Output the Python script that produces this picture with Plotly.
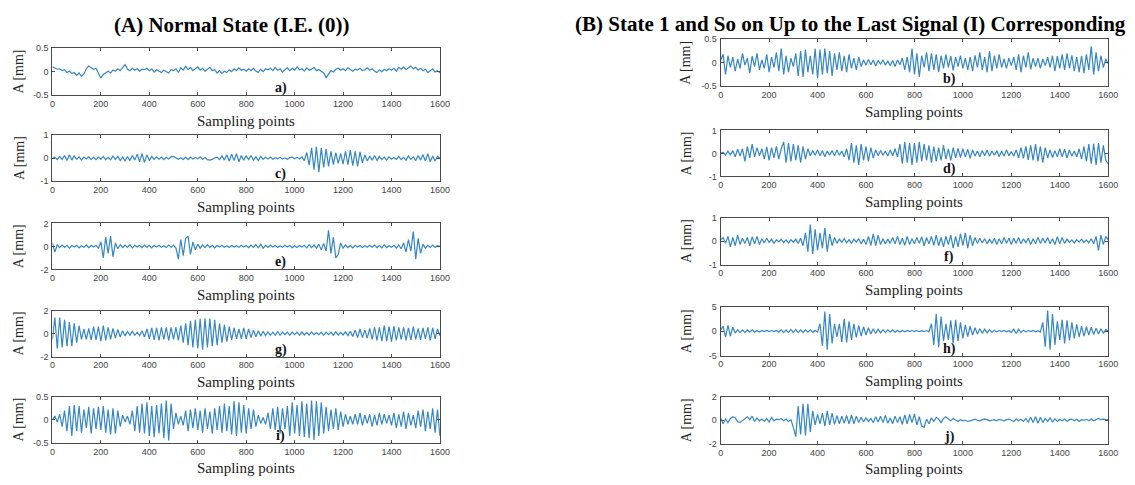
import plotly.graph_objects as go

W, H = 1135, 485

# ---------------- data (estimated, one value every 10 sampling points) ----------------
sig_a = [0.10, 0.08, 0.05, 0.06, 0.02, 0.04, -0.02, 0.01, -0.04, -0.02,
         -0.08, -0.03, -0.10, -0.05, 0.06, 0.12, 0.08, 0.05, 0.07, -0.02,
         -0.14, -0.06, -0.02, 0.01, -0.03, 0.03, 0.01, 0.06, 0.02, 0.08,
         0.15, 0.05, 0.02, 0.07, 0.03, 0.06, 0.01, 0.05, 0.04, 0.07,
         0.02, 0.06, -0.01, 0.04, 0.01, -0.02, 0.03, 0.00, -0.03, 0.04,
         0.02, 0.06, -0.02, 0.08, 0.03, 0.11, 0.04, 0.09, 0.02, 0.06,
         0.10, 0.03, 0.07, 0.01, 0.05, 0.09, 0.02, 0.04, -0.03, 0.02,
         -0.04, 0.01, -0.02, 0.04, 0.00, 0.06, 0.02, 0.08, 0.03, 0.05,
         0.01, 0.06, 0.02, 0.07, 0.01, -0.02, 0.05, 0.00, 0.06, 0.04,
         0.07, 0.02, 0.09, 0.03, 0.06, -0.01, 0.04, 0.08, 0.02, 0.07,
         0.03, 0.10, 0.04, 0.06, 0.01, 0.08, 0.03, 0.05, 0.09, 0.02,
         0.04, 0.00, -0.03, -0.13, -0.05, 0.02, -0.01, 0.05, 0.07, 0.03,
         0.06, 0.02, 0.08, 0.04, 0.01, 0.05, 0.03, 0.07, 0.02, 0.04,
         0.08, 0.03, 0.06, 0.01, -0.02, 0.04, 0.00, 0.05, 0.02, 0.06,
         0.03, 0.07, 0.01, 0.09, 0.05, 0.10, 0.04, 0.08, 0.12, 0.06,
         0.09, 0.03, 0.07, 0.02, 0.05, -0.02, 0.03, 0.06, -0.01, 0.02,
         -0.03]

sig_b = [0.05, 0.18, -0.25, 0.15, -0.10, 0.12, -0.18, 0.08, -0.12, 0.20,
         -0.05, 0.10, -0.22, 0.14, -0.08, 0.20, -0.15, 0.06, -0.12, 0.18,
         -0.20, 0.12, -0.10, 0.22, -0.18, 0.30, -0.25, 0.15, -0.20, 0.10,
         -0.08, 0.20, -0.28, 0.25, -0.30, 0.28, -0.20, 0.15, -0.25, 0.30,
         -0.33, 0.28, -0.25, 0.30, -0.22, 0.25, -0.28, 0.20, -0.15, 0.22,
         -0.18, 0.15, -0.20, 0.18, -0.12, 0.10, -0.15, 0.12, -0.08, 0.06,
         -0.05, 0.07, -0.04, 0.06, -0.07, 0.05, -0.03, 0.06, -0.05, 0.04,
         -0.06, 0.05, -0.08, 0.06, -0.04, 0.10, -0.15, 0.12, -0.20, 0.30,
         -0.25, 0.20, -0.30, 0.15, -0.10, 0.22, -0.18, 0.20, -0.15, 0.18,
         -0.20, 0.15, -0.12, 0.18, -0.10, 0.14, -0.16, 0.12, -0.08, 0.15,
         -0.12, 0.10, -0.15, 0.12, -0.18, 0.16, -0.10, 0.22, -0.15, 0.12,
         -0.20, 0.25, -0.18, 0.15, -0.12, 0.18, -0.10, 0.08, -0.12, 0.10,
         -0.06, 0.12, -0.15, 0.18, -0.20, 0.15, -0.10, 0.22, -0.14, 0.10,
         -0.08, 0.10, -0.12, 0.08, -0.06, 0.12, -0.10, 0.15, -0.18, 0.14,
         -0.12, 0.18, -0.15, 0.20, -0.12, 0.16, -0.18, 0.12, -0.20, 0.15,
         -0.22, 0.18, -0.15, 0.35, -0.25, 0.22, -0.18, 0.15, -0.10, 0.08,
         -0.02]

sig_c = [0.00, 0.05, -0.06, 0.08, -0.05, 0.12, -0.10, 0.15, -0.08, 0.10,
         -0.05, 0.06, -0.08, 0.05, -0.03, 0.06, -0.05, 0.04, -0.06, 0.05,
         -0.04, 0.08, -0.06, 0.04, -0.07, 0.10, -0.05, 0.08, -0.10, 0.06,
         -0.12, 0.08, -0.10, 0.12, -0.08, 0.18, -0.15, 0.20, -0.18, 0.15,
         -0.10, 0.08, -0.05, 0.06, -0.04, 0.05, -0.06, 0.04, -0.03, 0.06,
         0.08, 0.03, -0.04, 0.02, -0.05, 0.04, -0.06, 0.05, -0.03, 0.04,
         -0.02, 0.05, -0.04, 0.03, -0.06, -0.08, -0.05, 0.02, 0.05, -0.06,
         0.10, -0.08, 0.15, -0.12, 0.18, -0.10, 0.20, -0.15, 0.12, -0.08,
         0.10, -0.06, 0.12, -0.08, 0.06, -0.10, 0.08, -0.05, 0.04, -0.03,
         0.05, -0.04, 0.03, -0.02, 0.04, -0.03, 0.02, -0.04, 0.03, 0.05,
         -0.02, 0.04, -0.03, 0.06, -0.10, 0.25, -0.30, 0.45, -0.50, 0.50,
         -0.60, 0.45, -0.40, 0.40, -0.35, 0.30, -0.28, 0.25, -0.22, 0.20,
         -0.25, 0.30, -0.28, 0.35, -0.32, 0.30, -0.35, 0.28, -0.20, 0.15,
         -0.12, 0.10, -0.08, 0.12, -0.10, 0.08, -0.06, 0.05, -0.08, 0.06,
         -0.04, 0.03, -0.05, 0.08, -0.06, 0.04, -0.08, 0.10, -0.05, 0.06,
         -0.10, 0.12, -0.08, 0.15, -0.12, 0.20, -0.15, 0.10, -0.12, 0.08,
         0.00]

sig_d = [0.00, 0.05, -0.08, 0.10, -0.06, 0.12, -0.15, 0.18, -0.12, 0.20,
         -0.35, 0.30, -0.20, 0.40, -0.15, 0.25, -0.10, 0.20, -0.25, 0.28,
         -0.30, 0.25, -0.20, 0.30, -0.25, 0.20, 0.50, -0.40, 0.45, -0.35,
         0.40, -0.30, 0.35, -0.40, 0.30, -0.25, 0.20, -0.10, 0.12, -0.08,
         0.15, -0.10, 0.12, -0.15, 0.10, -0.08, 0.12, -0.10, 0.15, -0.08,
         0.10, -0.15, 0.20, -0.30, 0.45, -0.40, 0.35, -0.50, 0.40, -0.30,
         0.30, -0.35, 0.25, -0.20, 0.15, -0.10, 0.12, -0.08, 0.10, -0.12,
         0.15, -0.10, 0.20, -0.15, 0.40, -0.45, 0.50, -0.40, 0.45, -0.50,
         0.45, -0.40, 0.50, -0.35, 0.40, -0.30, 0.35, -0.40, 0.30, -0.35,
         0.25, -0.30, 0.35, -0.25, 0.20, -0.30, 0.25, -0.20, 0.22, -0.18,
         0.20, -0.15, 0.18, -0.22, 0.15, -0.12, 0.10, -0.15, 0.12, -0.10,
         0.15, -0.12, 0.10, -0.08, 0.12, -0.15, 0.10, -0.12, 0.15, -0.10,
         0.08, -0.12, 0.15, -0.20, 0.25, -0.22, 0.30, -0.28, 0.35, -0.30,
         0.40, -0.35, 0.30, -0.40, 0.25, -0.20, 0.15, -0.18, 0.12, -0.15,
         0.20, -0.15, 0.18, -0.20, 0.15, -0.12, 0.10, -0.15, 0.20, -0.25,
         0.30, -0.35, 0.40, -0.45, 0.42, -0.50, 0.45, -0.40, 0.35, -0.30,
         -0.45]

sig_e = [0.30, -0.50, 0.15, -0.10, 0.12, -0.08, 0.10, -0.15, 0.08, -0.05,
         0.10, -0.12, 0.06, -0.08, 0.12, -0.10, 0.08, -0.06, 0.10, -0.15,
         0.40, -1.00, 0.80, -0.60, 0.90, -0.90, 0.30, -0.20, 0.15, -0.10,
         0.12, -0.08, 0.15, -0.12, 0.10, -0.06, 0.08, -0.10, 0.12, -0.08,
         0.10, -0.12, 0.08, -0.06, 0.10, -0.08, 0.06, -0.10, 0.12, -0.06,
         0.10, -0.15, -1.10, 0.60, -0.80, 0.70, 0.90, -0.70, 0.40, -0.30,
         0.20, -0.15, 0.12, -0.10, 0.15, -0.08, 0.10, -0.12, 0.08, -0.06,
         0.10, -0.08, 0.06, -0.10, 0.08, -0.05, 0.06, -0.08, 0.10, -0.06,
         0.08, -0.10, 0.12, -0.08, 0.15, -0.12, 0.20, -0.15, 0.10, -0.08,
         0.12, -0.06, 0.08, -0.10, 0.06, -0.08, 0.10, -0.05, 0.08, -0.12,
         0.06, -0.10, 0.08, -0.06, 0.10, -0.12, 0.15, -0.10, 0.12, -0.15,
         0.20, -0.30, 0.25, -0.40, 1.40, -0.60, 0.80, -1.00, -0.70, 0.30,
         -0.15, 0.12, -0.10, 0.08, -0.12, 0.10, -0.06, 0.08, -0.10, 0.06,
         -0.08, 0.10, -0.06, 0.12, -0.10, 0.08, -0.12, 0.15, -0.10, 0.06,
         -0.08, 0.10, -0.15, 0.12, -0.20, 0.30, -0.50, 0.60, -0.40, 1.30,
         -1.10, 0.70, -0.60, 0.20, -0.15, 0.10, -0.08, 0.12, -0.10, 0.06,
         0.00]

sig_f = [0.05, 0.15, -0.10, 0.20, -0.25, 0.15, -0.20, 0.25, -0.15, 0.12,
         -0.10, 0.15, -0.20, 0.18, -0.12, 0.20, -0.15, 0.10, -0.08, 0.12,
         -0.06, 0.08, -0.10, 0.06, -0.04, 0.08, -0.06, 0.05, -0.08, 0.06,
         -0.05, 0.08, -0.10, 0.12, -0.20, 0.35, -0.45, 0.70, -0.55, 0.50,
         -0.40, 0.35, -0.30, 0.55, -0.45, 0.30, -0.20, 0.15, -0.10, 0.08,
         -0.06, 0.10, -0.08, 0.06, -0.10, 0.08, -0.05, 0.10, -0.12, 0.08,
         -0.15, 0.20, -0.18, 0.30, -0.20, 0.25, -0.15, 0.10, -0.12, 0.08,
         -0.10, 0.15, -0.12, 0.20, -0.15, 0.12, -0.18, 0.20, -0.15, 0.10,
         -0.12, 0.15, -0.10, 0.18, -0.20, 0.15, -0.12, 0.20, -0.18, 0.25,
         -0.20, 0.15, -0.25, 0.20, -0.15, 0.25, -0.30, 0.20, -0.25, 0.30,
         -0.20, 0.35, -0.30, 0.25, -0.20, 0.15, -0.10, 0.12, -0.08, 0.10,
         -0.12, 0.08, -0.10, 0.12, -0.15, 0.10, -0.12, 0.15, -0.10, 0.12,
         -0.15, 0.12, -0.10, 0.15, -0.12, 0.10, -0.08, 0.12, -0.15, 0.10,
         -0.12, 0.15, -0.10, 0.12, -0.08, 0.15, -0.12, 0.10, -0.15, 0.18,
         -0.12, 0.15, -0.10, 0.08, -0.06, 0.05, -0.08, 0.06, -0.05, 0.08,
         -0.06, 0.05, -0.08, 0.10, -0.12, 0.20, -0.40, 0.25, -0.15, 0.20,
         0.05]

sig_g = [-0.50, 1.40, -1.30, 1.40, -1.20, 1.20, -1.10, 1.00, -1.10, 0.90,
         -0.80, 0.70, -0.50, 0.40, -0.50, 0.45, -0.55, 0.60, -0.55, 0.60,
         -0.65, 0.70, -0.60, 0.55, -0.50, 0.45, -0.40, 0.35, -0.30, 0.25,
         -0.20, 0.18, -0.15, 0.20, -0.15, 0.12, -0.18, 0.25, -0.30, 0.40,
         -0.45, 0.50, -0.55, 0.50, -0.60, 0.55, -0.50, 0.55, -0.60, 0.55,
         -0.50, 0.55, -0.60, 0.70, -0.80, 0.90, -1.00, 1.10, -1.20, 1.20,
         -1.30, 1.30, -1.40, 1.30, -1.20, 1.30, -1.10, 1.20, -1.00, 0.90,
         -0.80, 0.75, -0.70, 0.60, -0.55, 0.50, -0.45, 0.40, -0.45, 0.50,
         -0.45, 0.40, -0.35, 0.30, -0.28, 0.25, -0.22, 0.20, -0.18, 0.15,
         -0.15, 0.12, -0.15, 0.18, -0.15, 0.12, -0.10, 0.12, -0.15, 0.12,
         -0.10, 0.12, -0.14, 0.15, -0.12, 0.10, -0.12, 0.14, -0.10, 0.08,
         -0.10, 0.12, -0.15, 0.12, -0.10, 0.12, -0.14, 0.15, -0.12, 0.10,
         -0.12, 0.15, -0.18, 0.20, -0.25, 0.30, -0.35, 0.40, -0.35, 0.30,
         -0.40, 0.45, -0.50, 0.55, -0.60, 0.55, -0.65, 0.70, -0.65, 0.60,
         -0.70, 0.65, -0.60, 0.55, -0.50, 0.55, -0.60, 0.50, -0.55, 0.60,
         -0.50, 0.45, -0.55, 0.50, -0.45, 0.55, -0.60, 0.50, -0.45, 0.40,
         -0.20]

sig_h = [0.20, 1.00, -1.20, 1.20, -1.00, 0.80, -0.40, 0.30, -0.30, 0.25,
         -0.30, 0.25, -0.20, 0.25, -0.20, 0.15, -0.20, 0.15, -0.10, 0.15,
         -0.10, 0.12, -0.10, 0.15, -0.20, 0.25, -0.30, 0.25, -0.30, 0.35,
         -0.30, 0.35, -0.30, 0.25, -0.30, 0.25, -0.20, 0.25, -0.20, 0.15,
         -0.20, 1.50, -3.00, 4.00, -3.80, 3.50, -2.50, 1.50, -1.20, 1.50,
         -2.20, 2.50, -2.30, 2.00, -1.80, 1.50, -1.30, 1.20, -1.00, 0.90,
         -0.80, 0.70, -0.60, 0.50, -0.50, 0.40, -0.35, 0.30, -0.30, 0.25,
         -0.20, 0.25, -0.20, 0.15, -0.20, 0.15, -0.12, 0.15, -0.10, 0.12,
         -0.10, 0.12, -0.10, 0.08, -0.10, 0.12, -0.15, 1.50, -2.80, 3.50,
         -3.30, 3.00, -2.00, 1.50, -1.80, 2.20, -2.50, 2.30, -2.00, 1.80,
         -1.50, 1.30, -1.10, 1.00, -0.80, 0.70, -0.60, 0.50, -0.45, 0.40,
         -0.35, 0.30, -0.25, 0.20, -0.15, 0.12, -0.10, 0.15, -0.12, 0.10,
         -0.25, 0.40, -0.50, 0.40, -0.30, 0.20, -0.15, 0.12, -0.10, 0.15,
         -0.12, 0.10, -0.20, 1.80, -3.20, 4.20, -3.80, 3.50, -2.80, 2.00,
         -1.80, 2.30, -2.50, 2.20, -1.90, 1.80, -1.50, 1.40, -1.20, 1.00,
         -1.00, 0.90, -0.80, 0.80, -0.70, 0.60, -0.60, 0.50, -0.40, 0.30,
         0.00]

sig_i = [0.00, 0.08, -0.05, 0.12, -0.15, 0.20, -0.25, 0.30, -0.35, 0.32,
         -0.25, 0.30, -0.28, 0.22, -0.18, 0.28, -0.30, 0.25, -0.20, 0.28,
         -0.22, 0.30, -0.28, 0.22, -0.32, 0.25, -0.30, 0.20, -0.15, 0.10,
         -0.05, 0.08, -0.10, 0.20, -0.25, 0.30, -0.28, 0.35, -0.30, 0.38,
         -0.35, 0.30, -0.38, 0.32, -0.30, 0.35, -0.40, 0.42, -0.45, 0.35,
         -0.20, 0.15, -0.10, 0.08, -0.12, 0.20, -0.25, 0.22, -0.18, 0.25,
         -0.22, 0.20, -0.28, 0.25, -0.20, 0.18, -0.30, 0.25, -0.22, 0.30,
         -0.28, 0.35, -0.25, 0.30, -0.32, 0.40, -0.35, 0.38, -0.28, 0.32,
         -0.30, 0.25, -0.20, 0.22, -0.15, 0.10, -0.08, 0.05, -0.10, 0.15,
         -0.20, 0.25, -0.22, 0.28, -0.30, 0.25, -0.20, 0.30, -0.35, 0.38,
         -0.30, 0.32, -0.35, 0.40, -0.38, 0.35, -0.40, 0.42, -0.44, 0.40,
         -0.35, 0.38, -0.30, 0.28, -0.25, 0.22, -0.20, 0.25, -0.22, 0.18,
         -0.15, 0.12, -0.10, 0.08, -0.10, 0.12, -0.10, 0.15, -0.12, 0.10,
         -0.08, 0.12, -0.15, 0.10, -0.12, 0.15, -0.10, 0.12, -0.08, 0.10,
         -0.12, 0.15, -0.18, 0.12, -0.15, 0.18, -0.20, 0.15, -0.12, 0.10,
         -0.18, 0.20, -0.15, 0.22, -0.25, 0.18, -0.20, 0.25, -0.28, 0.22,
         -0.35]

sig_j = [0.20, -0.30, 0.10, -0.20, 0.15, 0.30, 0.20, -0.10, -0.20, -0.05,
         0.10, 0.30, 0.05, 0.35, -0.10, 0.20, -0.05, 0.10, -0.10, 0.15,
         -0.15, 0.25, -0.05, 0.10, 0.05, 0.15, -0.05, 0.10, -0.10, 0.05,
         -0.60, -1.40, 1.20, -1.20, 1.40, -1.30, 1.40, -1.00, 0.80, -0.40,
         0.50, -0.30, 0.60, -0.50, 0.80, -0.40, 0.60, -0.35, 0.40, -0.30,
         0.35, -0.25, 0.40, -0.30, 0.45, -0.30, 0.35, -0.20, 0.25, -0.15,
         0.20, -0.10, 0.15, -0.20, 0.30, -0.15, 0.35, -0.20, 0.40, -0.25,
         0.20, -0.30, 0.35, -0.20, 0.30, -0.35, 0.45, -0.30, 0.50, -0.20,
         0.55, -0.40, 0.30, -0.50, -0.60, 0.10, -0.30, 0.20, -0.10, 0.25,
         0.10, -0.20, 0.15, 0.30, 0.10, -0.05, 0.15, 0.05, -0.10, 0.05,
         -0.05, 0.00, -0.10, -0.05, 0.05, 0.10, 0.00, -0.05, 0.05, 0.10,
         0.05, -0.05, 0.00, 0.05, -0.05, 0.08, 0.02, -0.05, 0.05, 0.10,
         0.00, -0.10, 0.10, -0.05, 0.08, -0.10, 0.15, -0.15, 0.25, -0.20,
         0.30, -0.25, 0.25, -0.20, 0.15, -0.10, 0.20, -0.15, 0.12, -0.10,
         0.08, -0.05, 0.10, -0.08, 0.05, 0.10, -0.05, 0.08, -0.10, 0.05,
         0.00, 0.08, -0.05, 0.10, -0.05, 0.08, 0.15, 0.05, 0.10, 0.05,
         0.05]

SAMPLE_STEP = 10
x_ticks = [0, 200, 400, 600, 800, 1000, 1200, 1400, 1600]

panel_names = ["a)", "c)", "e)", "g)", "i)", "b)", "d)", "f)", "h)", "j)"]
panel_signals = [sig_a, sig_c, sig_e, sig_g, sig_i, sig_b, sig_d, sig_f, sig_h, sig_j]
panel_ylims = [0.5, 1, 2, 2, 0.5, 0.5, 1, 1, 5, 2]
titles = ["(A) Normal State (I.E. (0))",
          "(B) State 1 and So on Up to the Last Signal (I) Corresponding"]

# ---------------- layout geometry (pixels) ----------------
left_x = (50, 442)
right_x = (726, 1118)
left_y = [(44, 92), (133, 180), (223, 270), (312, 359), (400, 447)]
right_y = [(35, 83), (128, 175), (217, 265), (308, 358), (400, 448)]

def px(xp):
    return xp / W

def py(yp):
    return 1 - yp / H

SERIF = "Liberation Serif, Times New Roman, serif"
SANS = "Liberation Sans, Arial, sans-serif"
LINE = "#3586c4"
FRAME = "#4a4a4a"

fig = go.Figure()
annotations = []
layout_axes = {}

for k in range(10):
    col = 0 if k < 5 else 1
    row = k % 5
    xr = left_x if col == 0 else right_x
    top, bot = (left_y if col == 0 else right_y)[row]
    lim = panel_ylims[k]
    ys = panel_signals[k]
    xs = [SAMPLE_STEP * i for i in range(len(ys))]
    idx = "" if k == 0 else str(k + 1)
    fig.add_trace(go.Scatter(x=xs, y=ys, mode="lines",
                             line=dict(color=LINE, width=1.2),
                             xaxis="x" + idx, yaxis="y" + idx,
                             showlegend=False, hoverinfo="skip"))
    yticks = [-lim, 0, lim]
    ytext = [("%g" % v) for v in yticks]
    layout_axes["xaxis" + idx] = dict(
        domain=[px(xr[0]), px(xr[1])], anchor="y" + idx,
        range=[0, 1600], tickvals=x_ticks, ticktext=[str(v) for v in x_ticks],
        ticks="inside", ticklen=3, tickcolor=FRAME, tickwidth=1,
        showline=True, linecolor=FRAME, linewidth=1, mirror="ticks",
        showgrid=False, zeroline=False, ticklabelstandoff=0,
        tickfont=dict(family=SANS, size=9, color="#444"))
    layout_axes["yaxis" + idx] = dict(
        domain=[py(bot), py(top)], anchor="x" + idx,
        range=[-lim, lim], tickvals=yticks, ticktext=ytext,
        ticks="inside", ticklen=3, tickcolor=FRAME, tickwidth=1,
        showline=True, linecolor=FRAME, linewidth=1, mirror="ticks",
        showgrid=False, zeroline=False, ticklabelstandoff=1,
        tickfont=dict(family=SANS, size=9, color="#444"))
    cx = (xr[0] + xr[1]) / 2
    # x-axis title
    annotations.append(dict(text="Sampling points", xref="paper", yref="paper",
                            x=px(cx), y=py(bot + 26), xanchor="center", yanchor="middle",
                            showarrow=False, font=dict(family=SERIF, size=15, color="#222")))
    # y-axis title
    annotations.append(dict(text="A [mm]", xref="paper", yref="paper",
                            x=px(16 if col == 0 else 691), y=py((top + bot) / 2),
                            xanchor="center", yanchor="middle", textangle=-90,
                            showarrow=False, font=dict(family=SERIF, size=14, color="#222")))
    # panel label
    annotations.append(dict(text="<b>%s</b>" % panel_names[k], xref="paper", yref="paper",
                            x=px(xr[0] + 231), y=py(bot + 3), xanchor="center", yanchor="bottom",
                            showarrow=False, font=dict(family=SERIF, size=14, color="#111")))

annotations.append(dict(text="<b>%s</b>" % titles[0], xref="paper", yref="paper",
                        x=px(232), y=py(20), xanchor="center", yanchor="middle",
                        showarrow=False, font=dict(family=SERIF, size=21, color="#000")))
annotations.append(dict(text="<b>%s</b>" % titles[1], xref="paper", yref="paper",
                        x=px(857), y=py(19), xanchor="center", yanchor="middle",
                        showarrow=False, font=dict(family=SERIF, size=21, color="#000")))

fig.update_layout(width=W, height=H, margin=dict(l=0, r=0, t=0, b=0),
                  paper_bgcolor="white", plot_bgcolor="white",
                  annotations=annotations, **layout_axes)

fig.write_html("out.html")
